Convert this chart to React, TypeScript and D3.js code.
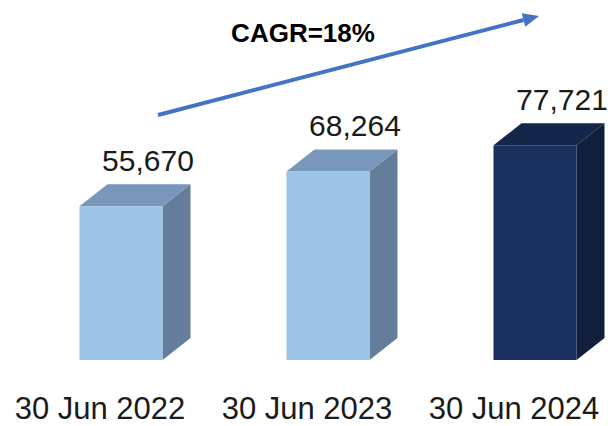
import React from "react";
import * as d3 from "d3";

const categories = ["30 Jun 2022", "30 Jun 2023", "30 Jun 2024"];
const values = [55670, 68264, 77721];
const valueLabels = ["55,670", "68,264", "77,721"];
const cagrLabel = "CAGR=18%";

const W = 608;
const H = 426;
const FONT = "'Liberation Sans', Arial, Helvetica, sans-serif";

const palettes = [
  { front: "#9DC3E6", top: "#7897BA", side: "#637D9A" },
  { front: "#9DC3E6", top: "#7897BA", side: "#637D9A" },
  { front: "#1A305E", top: "#142649", side: "#111F3C" },
];

export default function App() {
  const x = d3.scaleBand<string>().domain(categories).range([-3.5, 617.5]);
  const y = d3.scaleLinear().domain([0, 80000]).range([360, 139]);
  const frontW = 83;
  const dx = 28;
  const dy = 22;
  const offset = 21;

  const arrowStart: [number, number] = [158, 115];
  const arrowEnd: [number, number] = [539, 16];
  const ang = Math.atan2(arrowEnd[1] - arrowStart[1], arrowEnd[0] - arrowStart[0]);
  const headLen = 16;
  const headW = 7;
  const bx = arrowEnd[0] - headLen * Math.cos(ang);
  const by = arrowEnd[1] - headLen * Math.sin(ang);
  const px = -Math.sin(ang);
  const py = Math.cos(ang);
  const head = `M${arrowEnd[0]},${arrowEnd[1]} L${bx + px * headW},${by + py * headW} L${bx - px * headW},${by - py * headW} Z`;

  return (
    <svg
      width={W}
      height={H}
      style={{ position: "absolute", left: 0, top: 0, background: "#fff" }}
    >
      {categories.map((c, i) => {
        const cx = (x(c) as number) + x.bandwidth() / 2;
        const fl = cx + offset - frontW / 2;
        const fr = fl + frontW;
        const yt = y(values[i]);
        const yb = y(0);
        const p = palettes[i];
        const top = `M${fl},${yt} L${fl + dx},${yt - dy} L${fr + dx},${yt - dy} L${fr},${yt} Z`;
        const side = `M${fr},${yt} L${fr + dx},${yt - dy} L${fr + dx},${yb - dy} L${fr},${yb} Z`;
        return (
          <g key={c}>
            <path d={side} fill={p.side} />
            <path d={top} fill={p.top} />
            <rect x={fl} y={yt} width={frontW} height={yb - yt} fill={p.front} />
            <text
              x={cx + offset + 27}
              y={yt - 35}
              textAnchor="middle"
              fontFamily={FONT}
              fontSize={30}
              fill="#1a1a1a"
            >
              {valueLabels[i]}
            </text>
            <text
              x={cx}
              y={419}
              textAnchor="middle"
              fontFamily={FONT}
              fontSize={31}
              fill="#1a1a1a"
            >
              {c}
            </text>
          </g>
        );
      })}
      <line
        x1={arrowStart[0]}
        y1={arrowStart[1]}
        x2={bx}
        y2={by}
        stroke="#4472C4"
        strokeWidth={4}
      />
      <path d={head} fill="#4472C4" />
      <text
        x={303}
        y={42}
        textAnchor="middle"
        fontFamily={FONT}
        fontSize={26}
        fontWeight="bold"
        fill="#000"
      >
        {cagrLabel}
      </text>
    </svg>
  );
}
